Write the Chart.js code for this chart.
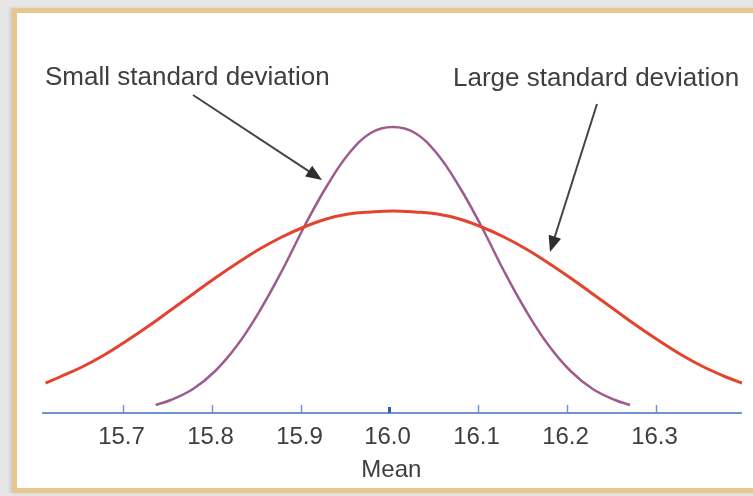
<!DOCTYPE html>
<html>
<head>
<meta charset="utf-8">
<script src="https://cdn.jsdelivr.net/npm/chart.js@4.4.1/dist/chart.umd.min.js"></script>
<style>
  html, body { margin: 0; padding: 0; }
  body { width: 753px; height: 496px; background: #e6e6e6; position: relative; overflow: hidden; }
  #frame { position: absolute; left: 12px; top: 8px; width: 760px; height: 485px; box-sizing: border-box;
           border: 5px solid #e8c68c; border-right: none; background: #fff; box-shadow: -2px 0 3px rgba(0,0,0,0.12); }
  #wrap { position: absolute; left: 0; top: 0; width: 753px; height: 496px; }
</style>
</head>
<body>
<div id="frame"></div>
<div id="wrap"><canvas id="normalChart"></canvas></div>
<script>
// values (x = mean value, y = curve height)
const xTicks = [15.7, 15.8, 15.9, 16.0, 16.1, 16.2, 16.3];
const meanValue = 16.0;
const axisTitle = 'Mean';

const largeX = [15.613, 15.629, 15.654, 15.679, 15.704, 15.729, 15.754, 15.779, 15.804, 15.829, 15.854,
                15.879, 15.904, 15.929, 15.954, 15.979, 16.004, 16.029, 16.054, 16.079, 16.104, 16.129,
                16.154, 16.179, 16.204, 16.229, 16.254, 16.279, 16.304, 16.329, 16.354, 16.379, 16.397];
const largeY = [30, 36, 46, 58, 72, 87, 103, 119, 135, 150, 164, 176, 186, 194, 199, 201, 202,
                201, 199, 194, 186, 176, 164, 150, 135, 119, 103, 87, 72, 58, 46, 36, 30];

const smallX = [15.737, 15.754, 15.779, 15.804, 15.829, 15.854, 15.879, 15.904, 15.929, 15.954, 15.979, 16.004,
                16.029, 16.054, 16.079, 16.104, 16.129, 16.154, 16.179, 16.204, 16.229, 16.254, 16.271];
const smallY = [8, 13, 24, 42, 68, 102, 142, 186, 226, 259, 280, 286, 280, 259, 226, 186, 142, 102, 68, 42, 24, 13, 8];

const labelSmall = 'Small standard deviation';
const labelLarge = 'Large standard deviation';

const FONT = '"Liberation Sans", Arial, Helvetica, sans-serif';
const TEXT = '#3e3e3e';

function toPoints(xs, ys) {
  return xs.map((x, i) => ({ x, y: ys[i] }));
}

function arrow(ctx, x1, y1, x2, y2) {
  const a = Math.atan2(y2 - y1, x2 - x1);
  const len = 16, w = 6.5;
  ctx.beginPath();
  ctx.moveTo(x1, y1);
  ctx.lineTo(x2 - Math.cos(a) * len * 0.8, y2 - Math.sin(a) * len * 0.8);
  ctx.stroke();
  ctx.beginPath();
  ctx.moveTo(x2, y2);
  ctx.lineTo(x2 - Math.cos(a) * len + Math.sin(a) * w, y2 - Math.sin(a) * len - Math.cos(a) * w);
  ctx.lineTo(x2 - Math.cos(a) * len - Math.sin(a) * w, y2 - Math.sin(a) * len + Math.cos(a) * w);
  ctx.closePath();
  ctx.fill();
}

// axis line with upward ticks, labels and title
const meanAxis = {
  id: 'meanAxis',
  beforeDatasetsDraw(chart) {
    const { ctx, chartArea } = chart;
    const x = chart.scales.x;
    const base = chart.scales.y.getPixelForValue(0);
    ctx.save();
    ctx.strokeStyle = '#6e95cf';
    ctx.lineWidth = 2;
    ctx.beginPath();
    ctx.moveTo(chartArea.left, base);
    ctx.lineTo(chartArea.right, base);
    ctx.stroke();
    ctx.font = '24px ' + FONT;
    ctx.fillStyle = TEXT;
    ctx.textAlign = 'center';
    ctx.textBaseline = 'middle';
    xTicks.forEach(v => {
      const px = Math.round(x.getPixelForValue(v)) + 0.5;
      const isMean = v === meanValue;
      ctx.strokeStyle = isMean ? '#2d5fb4' : '#6e95cf';
      ctx.lineWidth = isMean ? 3 : 1.5;
      ctx.beginPath();
      ctx.moveTo(px, base - (isMean ? 6 : 8));
      ctx.lineTo(px, base);
      ctx.stroke();
      ctx.fillText(v.toFixed(1), px - 2, base + 24);
    });
    ctx.fillText(axisTitle, x.getPixelForValue(meanValue) + 2, base + 57);
    ctx.restore();
  },
  afterDraw(chart) {
    const { ctx } = chart;
    ctx.save();
    ctx.font = '26px ' + FONT;
    ctx.fillStyle = TEXT;
    ctx.textAlign = 'left';
    ctx.textBaseline = 'alphabetic';
    ctx.fillText(labelSmall, 45, 85);
    ctx.fillText(labelLarge, 453, 86);
    ctx.strokeStyle = '#444';
    ctx.fillStyle = '#2e2e2e';
    ctx.lineWidth = 2;
    arrow(ctx, 193, 95, 322, 180);
    arrow(ctx, 597, 104, 550, 252);
    ctx.restore();
  }
};

new Chart(document.getElementById('normalChart'), {
  type: 'line',
  data: {
    datasets: [
      { label: labelLarge, data: toPoints(largeX, largeY), borderColor: '#e4432f', borderWidth: 3,
        pointRadius: 0, tension: 0.4, clip: false },
      { label: labelSmall, data: toPoints(smallX, smallY), borderColor: '#9d5c8d', borderWidth: 2.5,
        pointRadius: 0, tension: 0.4, clip: false }
    ]
  },
  options: {
    responsive: true,
    maintainAspectRatio: false,
    animation: false,
    layout: { padding: { left: 42, right: 11, top: 113, bottom: 83 } },
    scales: {
      x: { type: 'linear', min: 15.609, max: 16.397, display: false },
      y: { min: 0, max: 300, display: false }
    },
    plugins: { legend: { display: false }, tooltip: { enabled: false } }
  },
  plugins: [meanAxis]
});
</script>
</body>
</html>
